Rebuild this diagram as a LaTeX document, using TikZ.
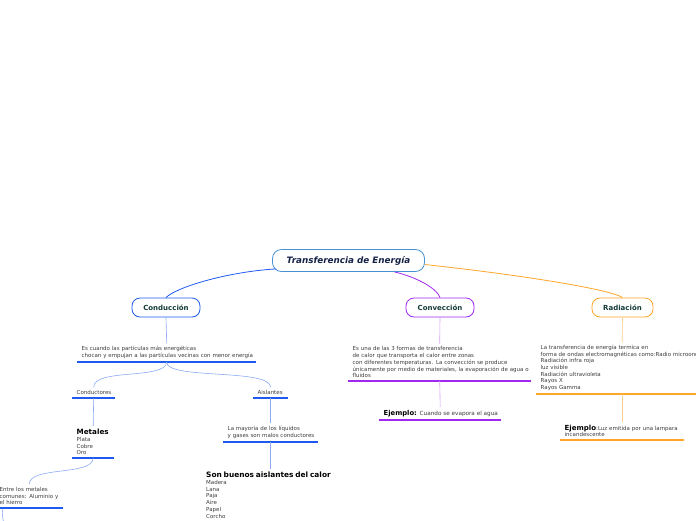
\documentclass[tikz,border=0pt]{standalone}
\usepackage{fontspec}
\setmainfont{DejaVu Sans}
\usepackage{xcolor}
\definecolor{condblue}{RGB}{30,90,240}
\definecolor{condlight}{RGB}{140,170,245}
\definecolor{convpurple}{RGB}{160,40,240}
\definecolor{convlight}{RGB}{215,160,245}
\definecolor{radorange}{RGB}{255,165,40}
\definecolor{radlight}{RGB}{255,205,140}
\definecolor{rootblue}{RGB}{70,145,210}
\definecolor{titlenavy}{RGB}{20,35,70}
\definecolor{labelgreen}{RGB}{20,60,55}
\definecolor{textgray}{RGB}{60,60,60}
\usetikzlibrary{positioning}

\begin{document}
\begin{tikzpicture}[
  x=1pt,y=-1pt,
  rootbox/.style={rectangle,rounded corners=9pt,draw=rootblue,line width=0.8pt,
    fill=white,minimum width=152pt,minimum height=22pt,
    font=\fontsize{8.8}{10}\selectfont\bfseries\itshape\color{titlenavy}},
  topic/.style={rectangle,rounded corners=8pt,line width=0.8pt,fill=white,
    minimum width=68pt,minimum height=19pt,
    font=\fontsize{7}{8}\selectfont\bfseries\color{labelgreen}},
  note/.style={anchor=south west,inner xsep=4.5pt,inner ysep=3pt,align=left,
    font=\fontsize{5.5}{6.7}\selectfont\color{textgray}},
  uline/.style={line width=1.6pt},
  link/.style={line width=0.6pt}
]
  \useasboundingbox (0,0) rectangle (696,520);

  % main topics
  \node[rootbox] (root) at (348.5,260.5) {Transferencia de Energía};
  \node[topic,draw=condblue] (cond) at (166,307.5) {Conducción};
  \node[topic,draw=convpurple] (conv) at (440,307.5) {Convección};
  \node[topic,draw=radorange,minimum width=61pt] (rad) at (622.5,307.5) {Radiación};

  \draw[link,condblue,line width=0.8pt] (root.south west) ++(4,-3) coordinate (rootl)
    (rootl) .. controls (225,272) and (175,288) .. (cond.north);
  \draw[link,convpurple,line width=0.8pt] (root.south) ++(46,0) coordinate (rootm)
    (rootm) .. controls (420,278) and (438,290) .. (conv.north);
  \draw[link,radorange,line width=0.8pt] (root.east) ++(0,4) coordinate (rootr)
    (rootr) .. controls (530,276) and (612,290) .. (rad.north);

  % conduccion
  \node[note,text width=170pt] (condtxt) at (77,362)
    {Es cuando las partículas más energéticas\\\mbox{chocan y empujan a las partículas vecinas con menor energía}};
  \node[note,text width=34pt] (condu) at (72,398) {\mbox{Conductores}};
  \node[note,text width=26pt] (aisl) at (253,398) {\mbox{Aislantes}};
  \node[note,text width=33pt] (metal) at (72,458)
    {{\fontsize{7.2}{7}\selectfont\bfseries\color{black}Metales}\\Plata\\Cobre\\Oro};
  \node[note,text width=59pt] (entre) at (-5,508)
    {Entre los metales\\\mbox{comunes: Aluminio y}\\el hierro};
  \coordinate (entrekid) at (5,532);
  \node[note,text width=86pt] (mayor) at (223,442)
    {La mayoría de los líquidos\\\mbox{y gases son malos conductores}};
  \node[note,anchor=north west,text width=150pt] (buenos) at (201.5,469)
    {{\fontsize{7.4}{7}\selectfont\bfseries\color{black}Son buenos aislantes del calor}\\Madera\\Lana\\Paja\\Aire\\Papel\\Corcho};

  \foreach \n in {condtxt,condu,aisl,metal,entre,mayor}
    \draw[uline,condblue] (\n.south west) -- (\n.south east);

  \draw[link,condlight] (cond.south) -- (condtxt.north);
  \draw[link,condlight] (condtxt.south) .. controls (166,380) and (93,368) .. (condu.north);
  \draw[link,condlight] (condtxt.south) .. controls (166,380) and (270,368) .. (aisl.north);
  \draw[link,condlight] (condu.south) -- (metal.north);
  \draw[link,condlight] (metal.south) .. controls (93,476) and (30,466) .. (entre.north);
  \draw[link,condlight] (entre.south west) ++(8,0.5) coordinate (entrefoot)
    (entrefoot) .. controls (1,516) and (4,520) .. (entrekid);
  \draw[link,condlight] (aisl.south) -- (mayor.north);
  \draw[link,condlight] (mayor.south) -- (buenos.north -| mayor.south);

  % conveccion
  \node[note,text width=174pt] (convtxt) at (348,381)
    {Es una de las 3 formas de transferencia\\de calor que transporta el calor entre zonas\\\mbox{con diferentes temperaturas. La convección se produce}\\\mbox{únicamente por medio de materiales, la evaporación de agua o}\\fluidos};
  \node[note,text width=113pt] (ejconv) at (379,420)
    {\mbox{{\fontsize{6.8}{7}\selectfont\bfseries\color{black}Ejemplo:} {\fontsize{5.7}{7}\selectfont Cuando se evapora el agua}}};
  \foreach \n in {convtxt,ejconv}
    \draw[uline,convpurple] (\n.south west) -- (\n.south east);
  \draw[link,convlight] (conv.south) -- (convtxt.north);
  \draw[link,convlight] (convtxt.south) -- (ejconv.north);

  % radiacion
  \node[note,text width=163pt] (radtxt) at (536,394)
    {La transferencia de energía termica en\\\mbox{forma de ondas electromagnéticas como:Radio microondas}\\Radiación infra roja\\luz visible\\Radiación ultravioleta\\Rayos X\\Rayos Gamma};
  \node[note,text width=115pt] (ejrad) at (560,440)
    {\mbox{{\fontsize{7}{7}\selectfont\bfseries\color{black}Ejemplo}:Luz emitida por una lampara}\\ incandescente};
  \foreach \n in {radtxt,ejrad}
    \draw[uline,radorange,line width=1.3pt] (\n.south west) -- (\n.south east);
  \draw[link,radlight] (rad.south) -- (radtxt.north);
  \draw[link,radlight] (radtxt.south) -- (ejrad.north);
\end{tikzpicture}
\end{document}
